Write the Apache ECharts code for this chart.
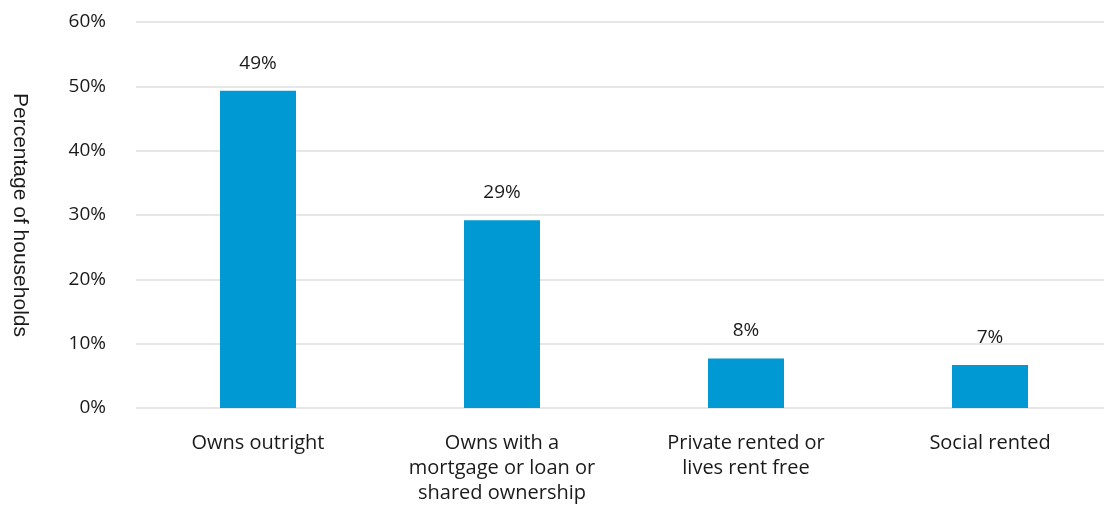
<!DOCTYPE html>
<html><head><meta charset="utf-8">
<script src="https://cdn.jsdelivr.net/npm/echarts@6/dist/echarts.min.js"></script>
<style>html,body{margin:0;padding:0;background:#fff}#c{width:1104px;height:506px}</style>
</head><body><div id="c"></div>
<script>
const categories = ["Owns outright", "Owns with a\nmortgage or loan or\nshared ownership", "Private rented or\nlives rent free", "Social rented"];
const values = [49.3, 29.2, 7.7, 6.7];
const valueLabels = ["49%", "29%", "8%", "7%"];
const yTicks = [0, 10, 20, 30, 40, 50, 60];

const chart = echarts.init(document.getElementById('c'), null, {renderer: 'canvas'});
const font = '"Open Sans", Roboto, sans-serif';
chart.setOption({
  animation: false,
  grid: {left: 136, top: 22, width: 976, height: 386, containLabel: false, outerBoundsMode: 'none'},
  xAxis: {
    type: 'category', data: categories,
    axisLine: {show: false}, axisTick: {show: false},
    axisLabel: {color: '#1a1a1a', fontSize: 20, fontFamily: font, margin: 23, lineHeight: 25, interval: 0}
  },
  yAxis: {
    type: 'value', min: yTicks[0], max: yTicks[yTicks.length - 1], interval: 10,
    name: 'Percentage of households', nameLocation: 'middle', nameRotate: -90, nameGap: 106,
    nameTextStyle: {color: '#1a1a1a', fontSize: 21, fontFamily: '"Liberation Sans", Arial, sans-serif'},
    axisLine: {show: false}, axisTick: {show: false},
    axisLabel: {color: '#1a1a1a', fontSize: 19, fontFamily: font, margin: 30, formatter: v => v + '%'},
    splitLine: {lineStyle: {color: '#e6e6e6', width: 2}}
  },
  series: [{
    type: 'bar', data: values, barWidth: 76,
    itemStyle: {color: '#0099d3'},
    label: {show: true, position: 'top', distance: 18, color: '#1a1a1a', fontSize: 19, fontFamily: font,
      formatter: p => valueLabels[p.dataIndex]}
  }]
});
</script></body></html>
